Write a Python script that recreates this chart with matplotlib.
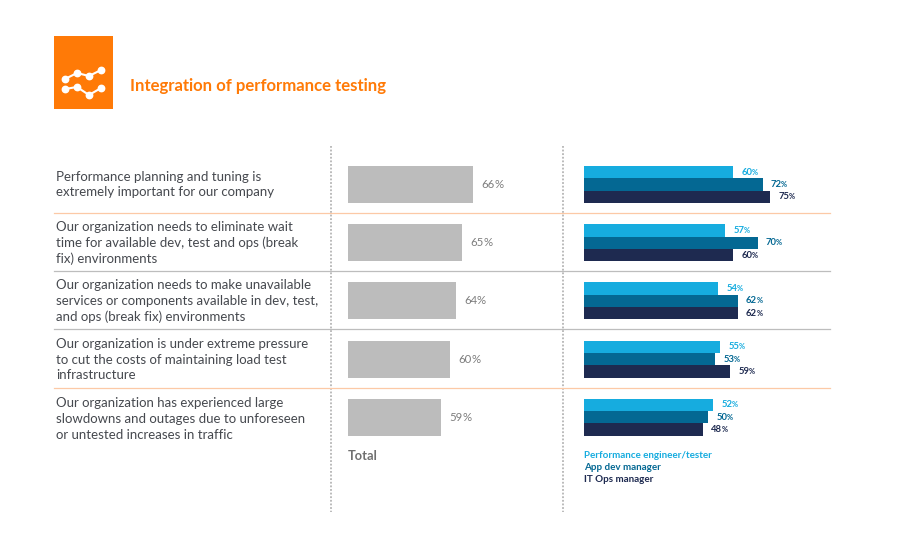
import matplotlib
matplotlib.use('Agg')
import matplotlib.pyplot as plt
import numpy as np
from matplotlib.patches import Rectangle

plt.rcParams['font.family'] = ['Lato', 'DejaVu Sans']

rows = [
    "Performance planning and tuning is\nextremely important for our company",
    "Our organization needs to eliminate wait\ntime for available dev, test and ops (break\nfix) environments",
    "Our organization needs to make unavailable\nservices or components available in dev, test,\nand ops (break fix) environments",
    "Our organization is under extreme pressure\nto cut the costs of maintaining load test\ninfrastructure",
    "Our organization has experienced large\nslowdowns and outages due to unforeseen\nor untested increases in traffic",
]
# printed value and the length the grey bar really has in the picture (not the same scale)
total_labels = [66, 65, 64, 60, 59]
total_lengths = [66, 60.2, 57, 53.9, 49.1]
perf_engineer = [60, 57, 54, 55, 52]
app_dev = [72, 70, 62, 53, 50]
it_ops = [75, 60, 62, 59, 48]
series_names = ["Performance engineer/tester", "App dev manager", "IT Ops manager"]
icon_x = [65, 77, 89, 101]
icon_top_y = [79, 73, 76, 70]
icon_low_y = [89, 87, 95, 88]

ORANGE = '#ff7a07'
GREY = '#bcbcbc'
COLORS = ['#16acdf', '#046893', '#1e2a50']

W, H = 900, 549
fig = plt.figure(figsize=(9, 5.49), dpi=100)

# page layer in pixel coordinates
page = fig.add_axes([0, 0, 1, 1])
page.set_xlim(0, W)
page.set_ylim(H, 0)
page.axis('off')

page.add_patch(Rectangle((54, 36), 58.5, 73, color=ORANGE, lw=0))
page.plot(icon_x, icon_top_y, color='white', lw=1.5, marker='o', ms=4.6)
page.plot(icon_x, icon_low_y, color='white', lw=1.5, marker='o', ms=4.6)
page.text(130, 86, "Integration of performance testing", color=ORANGE, fontsize=12.1,
          fontweight='bold', va='center')

for x in [331, 563]:
    page.plot([x, x], [146, 512], color='#b5b5b5', lw=1.3, ls=(0, (1, 1)))
for y, c in [(213, '#fcc9a6'), (271, '#bdbdbd'), (329, '#bdbdbd'), (388, '#fcc9a6')]:
    page.plot([54, 830], [y, y], color=c, lw=0.9)

row_y_text = [184.5, 243, 301, 359.5, 419]
for t, y in zip(rows, row_y_text):
    page.text(56.5, y, t, color='#46494f', fontsize=9.5, va='center', linespacing=1.37)

page.text(348, 456, "Total", color='#6f6f6f', fontsize=9.3, fontweight='bold', va='center')
for name, c, y in zip(series_names, COLORS, [455, 467, 479]):
    page.text(584, y, name, color=c, fontsize=7.1, fontweight='bold', va='center')


def make_axes(left, px_per_unit, width=220):
    ax = fig.add_axes([left / W, 1 - 446.4 / H, width / W, 291 / H])
    ax.set_xlim(0, width / px_per_unit)
    ax.set_ylim(4.5, -0.5)
    ax.axis('off')
    ax.patch.set_alpha(0)
    return ax


def value_label(ax, x, y, val, color, size, pad, pct_scale, weight='normal'):
    t = ax.annotate(str(val), (x, y), xytext=(pad, 0), textcoords='offset points',
                    color=color, fontsize=size, fontweight=weight, va='center')
    ax.annotate('%', xy=(1, 0.5), xycoords=t, xytext=(-0.6, 0), textcoords='offset points',
                color=color, fontsize=size * pct_scale, fontweight=weight, va='center')


# total bars
ax_total = make_axes(348, 1.894)
pos = np.arange(5)
ax_total.barh(pos, total_lengths, height=0.636, color=GREY)
for i in pos:
    value_label(ax_total, total_lengths[i], i, total_labels[i], '#7d7d7d', 8.2, 6.2, 1.0)

# role bars
ax_roles = make_axes(584, 2.48)
bar_h = 0.212
for k, (vals, c) in enumerate(zip([perf_engineer, app_dev, it_ops], COLORS)):
    ax_roles.barh(pos + (k - 1) * bar_h, vals, height=bar_h, color=c)
    for i in pos:
        value_label(ax_roles, vals[i], i + (k - 1) * bar_h, vals[i], c, 6.8, 6.0, 0.8, 'bold')

fig.savefig('out.png', dpi=100)
